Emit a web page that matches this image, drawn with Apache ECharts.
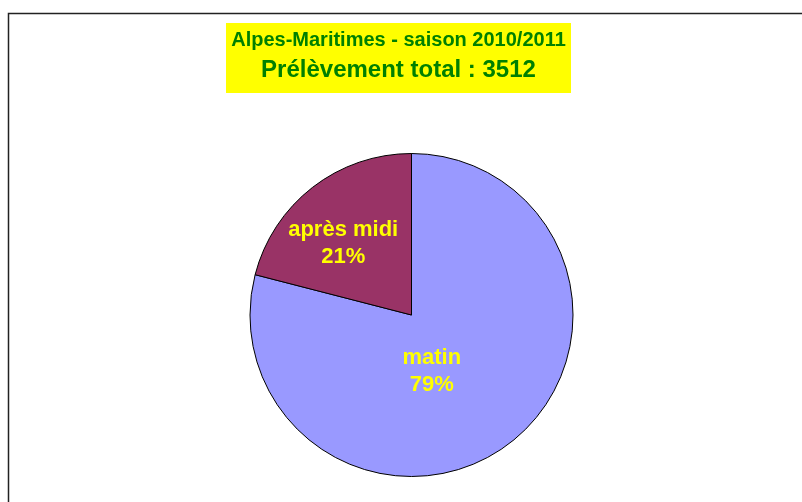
<!DOCTYPE html>
<html>
<head>
<meta charset="utf-8">
<script src="https://cdn.jsdelivr.net/npm/echarts@6/dist/echarts.min.js"></script>
<style>
  html, body { margin: 0; padding: 0; background: #fff; }
  #pie { width: 802px; height: 502px; }
</style>
</head>
<body>
<div id="pie"></div>
<script>
// values (total 3512)
const categories = ['matin', 'après midi']
const values = [2775, 737]
const colors = ['#9999ff', '#993366']
const titleLines = ['Alpes-Maritimes - saison 2010/2011', 'Prélèvement total : 3512']

// small nudges so labels sit where the original had them
const labelShift = [[-31, -10], [-17, -5]]

const mychart = echarts.init(document.getElementById('pie'))

const option = {
  animation: false,
  backgroundColor: '#fff',
  graphic: [
    {
      type: 'rect',
      shape: { x: 8.5, y: 13.5, width: 900, height: 600 },
      style: { fill: 'none', stroke: '#222', lineWidth: 1.5 }
    },
    {
      type: 'rect',
      shape: { x: 226, y: 23, width: 345, height: 70 },
      style: { fill: '#ffff00' }
    }
  ],
  title: [
    {
      text: titleLines[0],
      left: 398.5,
      top: 30,
      textAlign: 'center',
      padding: 0,
      textStyle: {
        fontFamily: 'Liberation Sans, Arial, sans-serif',
        fontWeight: 'bold',
        fontSize: 20,
        color: '#008000'
      }
    },
    {
      text: titleLines[1],
      left: 398.5,
      top: 58,
      textAlign: 'center',
      padding: 0,
      textStyle: {
        fontFamily: 'Liberation Sans, Arial, sans-serif',
        fontWeight: 'bold',
        fontSize: 24,
        color: '#008000'
      }
    }
  ],
  series: [
    {
      type: 'pie',
      center: [411.5, 315],
      radius: 161.5,
      startAngle: 90,
      clockwise: true,
      data: categories.map((name, i) => ({
        name: name,
        value: values[i],
        itemStyle: { color: colors[i] }
      })),
      itemStyle: { borderColor: '#000', borderWidth: 1 },
      emphasis: { disabled: true },
      label: {
        show: true,
        position: 'inside',
        formatter: '{b}\n{d}%',
        color: '#ffff00',
        fontFamily: 'Liberation Sans, Arial, sans-serif',
        fontWeight: 'bold',
        fontSize: 22,
        lineHeight: 27
      },
      percentPrecision: 0,
      labelLayout: function (params) {
        const s = labelShift[params.dataIndex]
        return { dx: s[0], dy: s[1] }
      }
    }
  ]
}
mychart.setOption(option)
</script>
</body>
</html>
